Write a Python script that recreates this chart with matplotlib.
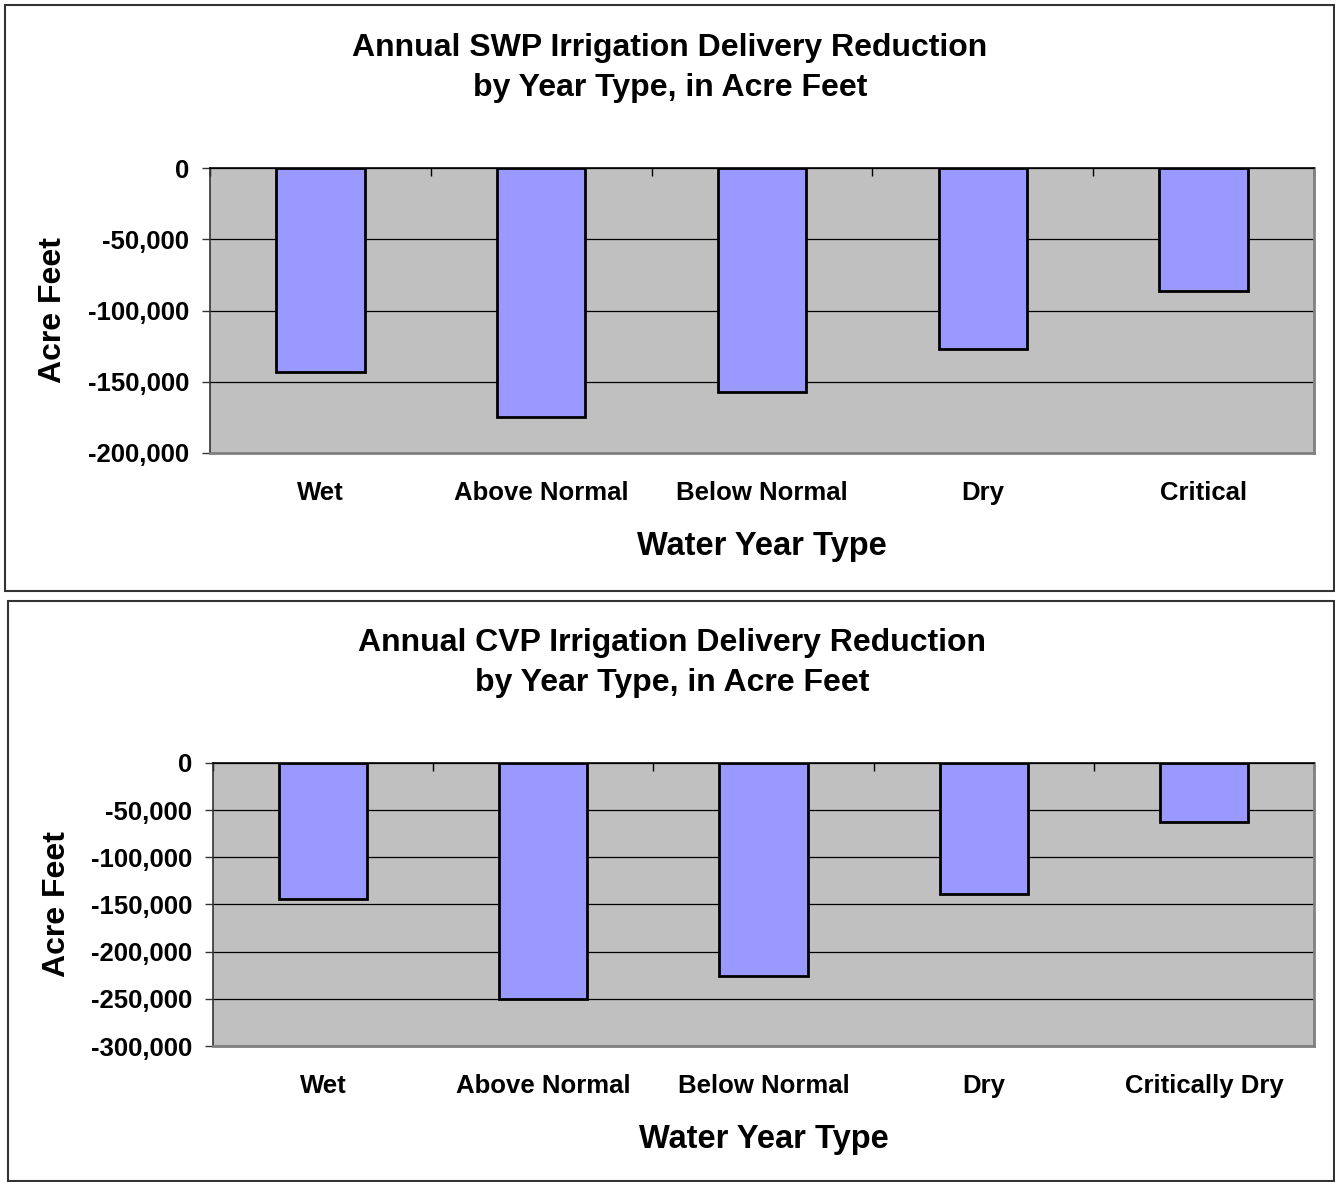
import matplotlib
matplotlib.use("Agg")
import matplotlib.pyplot as plt
from matplotlib.patches import Rectangle
from matplotlib.ticker import FuncFormatter, MultipleLocator, FixedLocator

plt.rcParams['font.family'] = ['Liberation Sans', 'DejaVu Sans']
plt.rcParams['font.weight'] = 'bold'

# data
swp_categories = ["Wet", "Above Normal", "Below Normal", "Dry", "Critical"]
swp_values = [-143000, -175000, -157000, -127000, -86000]

cvp_categories = ["Wet", "Above Normal", "Below Normal", "Dry", "Critically Dry"]
cvp_values = [-144000, -250000, -226000, -139000, -63000]

swp_title = "Annual SWP Irrigation Delivery Reduction\nby Year Type, in Acre Feet"
cvp_title = "Annual CVP Irrigation Delivery Reduction\nby Year Type, in Acre Feet"

W, H = 1335, 1182
fig = plt.figure(figsize=(W / 100, H / 100), dpi=100)


def px_box(left, top, right, bottom):
    # pixel box -> figure fraction [x0, y0, w, h]
    return [left / W, 1 - bottom / H, (right - left) / W, (bottom - top) / H]


def draw_chart(ax, cats, vals, ymin):
    x = list(range(len(cats)))
    ax.set_facecolor("#C0C0C0")
    ax.bar(x, vals, width=0.4, color="#9999FF", edgecolor="black", linewidth=2.0, zorder=3)
    ax.set_xlim(-0.5, len(cats) - 0.5)
    ax.set_ylim(ymin, 0)
    ax.yaxis.set_major_locator(MultipleLocator(50000))
    ax.yaxis.set_major_formatter(FuncFormatter(lambda v, p: f"{int(v):,}"))
    ax.set_axisbelow(True)
    ax.grid(axis="y", color="black", linewidth=0.9)

    ax.set_xticks(x)
    ax.set_xticklabels(cats, fontsize=18.5, fontweight="bold")
    ax.tick_params(axis="x", which="major", length=0, pad=20)
    ax.xaxis.set_minor_locator(FixedLocator([i - 0.5 for i in range(len(cats) + 1)]))
    ax.tick_params(axis="x", which="minor", top=True, bottom=False, direction="in",
                   length=6, width=1, color="black")
    ax.tick_params(axis="y", labelsize=18.5, direction="out", length=6, width=1,
                   color="#333333", pad=9)
    for lbl in ax.get_yticklabels():
        lbl.set_fontweight("bold")

    ax.spines["top"].set_color("black")
    ax.spines["top"].set_linewidth(1.2)
    ax.spines["left"].set_color("#333333")
    ax.spines["left"].set_linewidth(1.2)
    for s in ["right", "bottom"]:
        ax.spines[s].set_color("#808080")
        ax.spines[s].set_linewidth(2)

    ax.set_ylabel("Acre Feet", fontsize=23, fontweight="bold")
    ax.yaxis.label.set_va("center")
    ax.yaxis.set_label_coords(-0.142, 0.5)
    ax.set_xlabel("Water Year Type", fontsize=23.5, fontweight="bold")
    ax.xaxis.label.set_va("center")
    ax.xaxis.set_label_coords(0.5, -0.329)


# top chart
ax1 = fig.add_axes(px_box(210, 168, 1314, 453))
draw_chart(ax1, swp_categories, swp_values, -200000)
fig.text(670 / W, 1 - 68 / H, swp_title, ha="center", va="center",
         fontsize=23, fontweight="bold", linespacing=1.4)

# bottom chart
ax2 = fig.add_axes(px_box(213, 763, 1314, 1046))
draw_chart(ax2, cvp_categories, cvp_values, -300000)
fig.text(672 / W, 1 - 663 / H, cvp_title, ha="center", va="center",
         fontsize=23, fontweight="bold", linespacing=1.4)

# panel frames
for box in [px_box(5, 5, 1334, 591), px_box(8, 601, 1334, 1181)]:
    fig.patches.append(Rectangle((box[0], box[1]), box[2], box[3], transform=fig.transFigure,
                                 fill=False, edgecolor="#333333", linewidth=1.5))

fig.savefig("out.png", dpi=100)
